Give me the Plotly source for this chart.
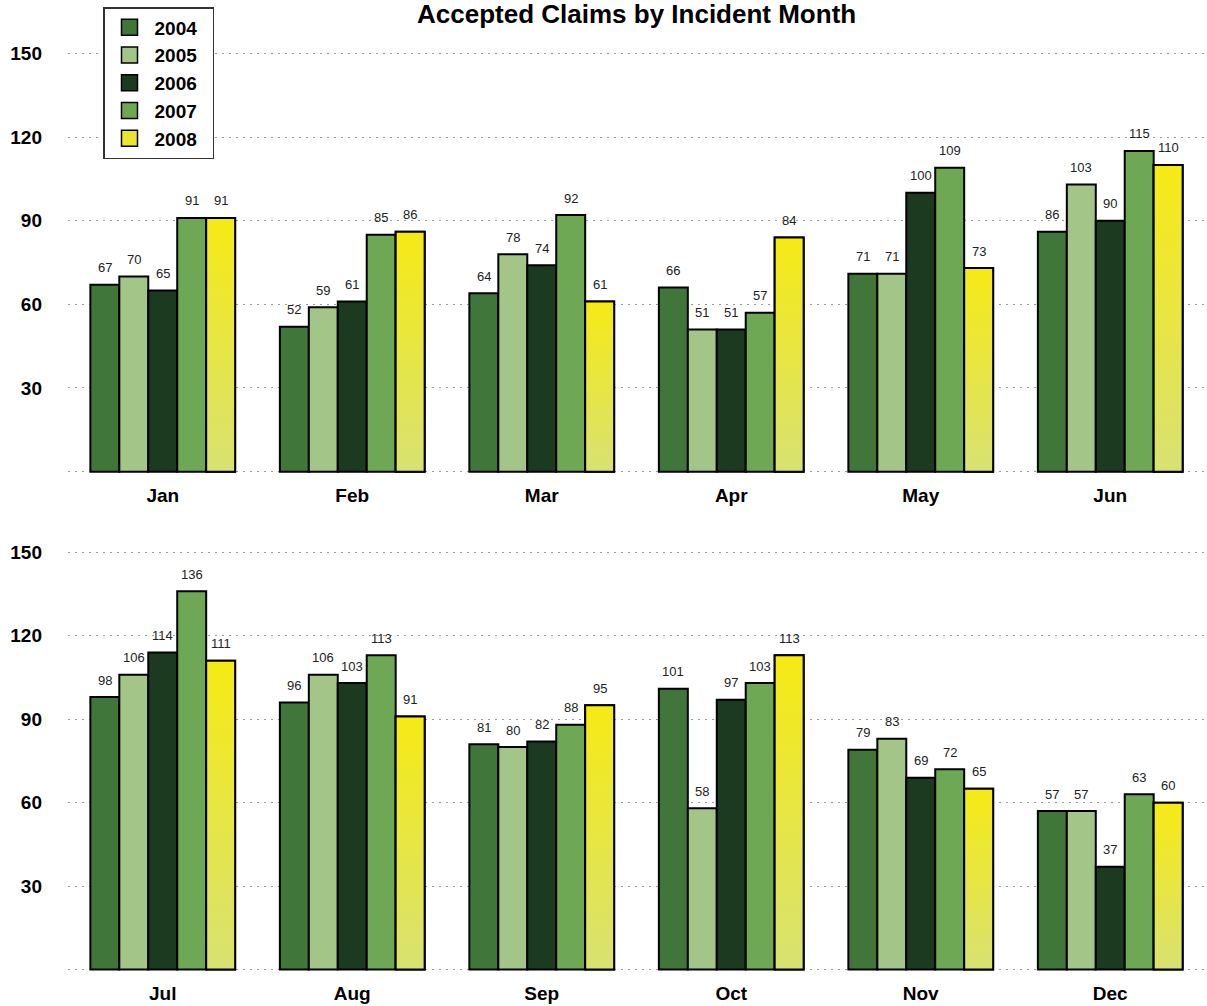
import plotly.graph_objects as go

# Accepted claims by incident month, one series per year
months = ["Jan", "Feb", "Mar", "Apr", "May", "Jun",
          "Jul", "Aug", "Sep", "Oct", "Nov", "Dec"]
years = ["2004", "2005", "2006", "2007", "2008"]
claims_2004 = [67, 52, 64, 66, 71, 86, 98, 96, 81, 101, 79, 57]
claims_2005 = [70, 59, 78, 51, 71, 103, 106, 106, 80, 58, 83, 57]
claims_2006 = [65, 61, 74, 51, 100, 90, 114, 103, 82, 97, 69, 37]
claims_2007 = [91, 85, 92, 57, 109, 115, 136, 113, 88, 103, 72, 63]
claims_2008 = [91, 86, 61, 84, 73, 110, 111, 91, 95, 113, 65, 60]
series = [claims_2004, claims_2005, claims_2006, claims_2007, claims_2008]
y_ticks = [0, 30, 60, 90, 120, 150]

colors = ["#41763a", "#a3c588", "#1b3a20", "#6ea855", "#ece52e"]
grad_scale = [[0, "#d8e272"], [1, "#f6ea14"]]

FONT = "Liberation Sans, Arial, Helvetica, sans-serif"

group_w = 0.764
bar_w = group_w / len(years)

fig = go.Figure()

per_row = 6
for row in range(2):
    xa = "x" if row == 0 else "x2"
    ya = "y" if row == 0 else "y2"
    idx = list(range(per_row))
    for k, (yr, vals) in enumerate(zip(years, series)):
        vals_row = vals[row * per_row:(row + 1) * per_row]
        off = -group_w / 2 + k * bar_w
        fig.add_trace(go.Bar(
            x=idx, y=vals_row, width=bar_w, offset=off,
            marker=dict(color=colors[k], line=dict(color="black", width=2)),
            xaxis=xa, yaxis=ya, showlegend=False, hoverinfo="skip",
        ))
        for i, v in zip(idx, vals_row):
            cx = i + off + bar_w / 2
            fig.add_annotation(
                x=cx, y=v, xref=xa, yref=ya, text=str(v), showarrow=False,
                yanchor="middle", yshift=17,
                font=dict(family=FONT, size=13, color="#222222"),
            )
            if k == len(years) - 1:
                # vertical gradient fill for the latest year
                x0, x1 = i + off, i + off + bar_w
                fig.add_trace(go.Scatter(
                    x=[x0, x0, x1, x1, x0], y=[0, v, v, 0, 0],
                    mode="lines", fill="toself",
                    fillgradient=dict(type="vertical", colorscale=grad_scale),
                    line=dict(color="black", width=2),
                    xaxis=xa, yaxis=ya, showlegend=False, hoverinfo="skip",
                ))

# legend entries
for k, yr in enumerate(years):
    fig.add_trace(go.Scatter(
        x=[None], y=[None], mode="markers", name=yr + "\u00a0\u00a0",
        marker=dict(symbol="square", size=16, color=colors[k],
                    line=dict(color="black", width=1.5)),
    ))

axis_font = dict(family=FONT, size=19, color="black", weight="bold")
common_x = dict(range=[-0.5, 5.5], tickvals=list(range(per_row)),
                showgrid=False, zeroline=False, showline=False,
                tickfont=axis_font, ticklabelstandoff=9, fixedrange=True)
common_y = dict(range=[-0.5, 150.5], tickvals=y_ticks,
                ticktext=["" if t == 0 else str(t) for t in y_ticks],
                showgrid=True, gridcolor="#9a9a9a", griddash="2px,5px",
                gridwidth=1, zeroline=False, showline=False,
                tickfont=axis_font, ticklabelstandoff=25, fixedrange=True)

fig.update_layout(
    width=1207, height=1006,
    margin=dict(l=68, r=2, t=0, b=0, autoexpand=False),
    plot_bgcolor="white", paper_bgcolor="white",
    barmode="overlay",
    xaxis=dict(domain=[0, 1], anchor="y", ticktext=months[:6], **common_x),
    yaxis=dict(domain=[0.5298, 0.9483], anchor="x", **common_y),
    xaxis2=dict(domain=[0, 1], anchor="y2", ticktext=months[6:], **common_x),
    yaxis2=dict(domain=[0.0348, 0.4523], anchor="x2", **common_y),
    legend=dict(
        xref="container", yref="container", x=103 / 1207, y=1 - 7 / 1006,
        xanchor="left", yanchor="top",
        bgcolor="white", bordercolor="#333333", borderwidth=1.5,
        font=dict(family=FONT, size=19, color="black", weight="bold"),
        itemsizing="trace", tracegroupgap=0, itemwidth=40,
    ),
    showlegend=True,
)

fig.add_annotation(
    text="Accepted Claims by Incident Month", xref="paper", yref="paper",
    x=0.5, y=1, yanchor="top", yshift=3, showarrow=False,
    font=dict(family=FONT, size=26, color="black", weight="bold"),
)

fig.write_html("out.html")
